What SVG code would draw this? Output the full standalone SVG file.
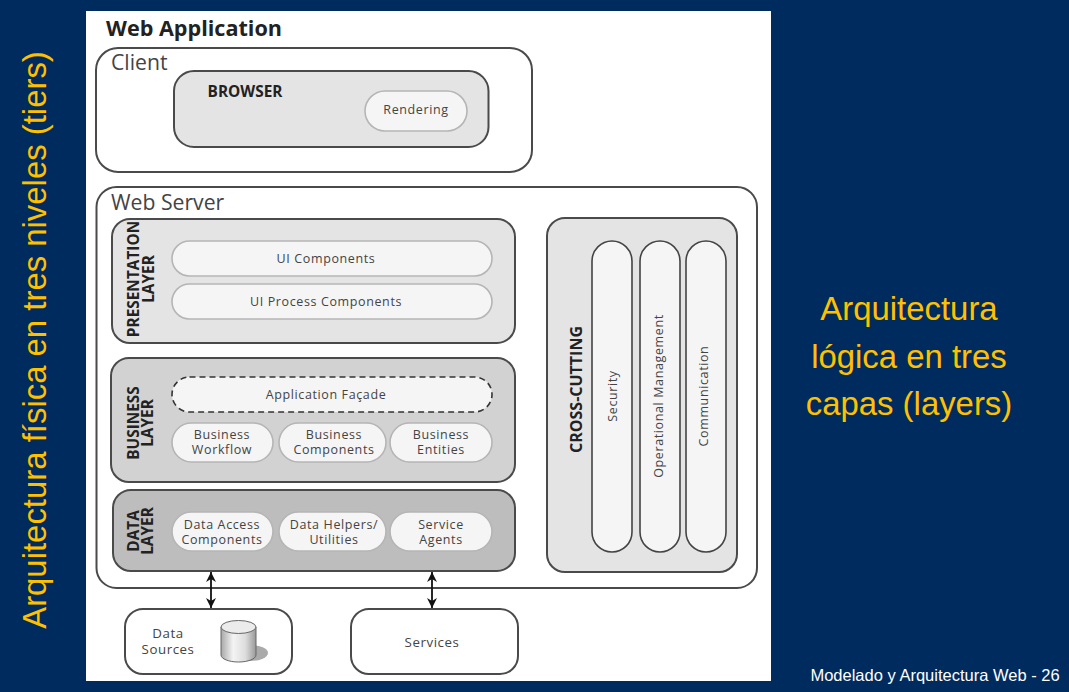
<svg xmlns="http://www.w3.org/2000/svg" width="1069" height="692" viewBox="0 0 1069 692">
<style>
text{font-family:"Open Sans","Noto Sans","Liberation Sans",sans-serif;fill:#333;text-anchor:middle}
.slide{font-family:"Liberation Sans",Arial,sans-serif;fill:#ffc000;font-size:32.9px}
.b{font-weight:700;fill:#222;font-size:15.4px}
.t{font-size:12.5px;fill:#444;letter-spacing:.62px}
.s{font-size:13.300px;fill:#444;letter-spacing:.55px}
.h{font-size:21.200px;fill:#444;text-anchor:start}
.box{stroke:#4a4a4a;stroke-width:2}
.pill{fill:#f5f5f5;stroke:#b5b5b5;stroke-width:1.6}
.bar{fill:#f5f5f5;stroke:#444;stroke-width:1.6}
.conn{stroke:#111;stroke-width:1.8;fill:none;marker-start:url(#ah);marker-end:url(#ah)}
</style>
<defs>
<marker id="ah" markerWidth="12" markerHeight="10" refX="10" refY="5" orient="auto-start-reverse" markerUnits="userSpaceOnUse">
<path d="M0 0L10 5L0 10L3 5Z" fill="#111"/>
</marker>
<linearGradient id="cyl" x1="0" x2="1" y1="0" y2="0">
<stop offset="0" stop-color="#a8a8a8"/><stop offset=".35" stop-color="#f4f4f4"/><stop offset=".7" stop-color="#dcdcdc"/><stop offset="1" stop-color="#999"/>
</linearGradient>
</defs>
<rect width="1069" height="692" fill="#002b5e"/>
<rect x="86" y="11" width="685" height="670" fill="#fff"/>
<text class="slide" transform="translate(46 340) rotate(-90)">Arquitectura física en tres niveles (tiers)</text>
<g id="slide-caption">
<text class="slide" x="909" y="320">Arquitectura</text>
<text class="slide" x="909" y="368">lógica en tres</text>
<text class="slide" x="909" y="415">capas (layers)</text>
</g>
<text x="935" y="681" font-size="16.500" style="font-family:'Liberation Sans',Arial,sans-serif;fill:#fff">Modelado y Arquitectura Web - 26</text>
<text x="194" y="36" font-size="21.600" font-weight="700" style="fill:#222">Web Application</text>
<g id="client">
<rect class="box" x="96" y="48" width="436" height="124" rx="22" fill="#fff"/>
<text class="h" x="111" y="70">Client</text>
</g>
<g id="browser">
<rect class="box" x="174" y="71" width="314.500" height="76" rx="20" fill="#e4e4e4"/>
<text class="b" x="245" y="97">BROWSER</text>
</g>
<g id="rendering">
<rect class="pill" x="365" y="91" width="102" height="40" rx="20"/>
<text class="t" x="416" y="114">Rendering</text>
</g>
<g id="web-server">
<rect class="box" x="96.500" y="187" width="660.500" height="401" rx="20" fill="#fff"/>
<text class="h" x="111" y="210">Web Server</text>
</g>
<g id="presentation-layer">
<rect class="box" x="112" y="219" width="403" height="124" rx="18" fill="#e4e4e4"/>
<text class="b" transform="translate(139 279) rotate(-90)">PRESENTATION</text>
<text class="b" transform="translate(154 279) rotate(-90)">LAYER</text>
</g>
<g id="ui-components">
<rect class="pill" x="172" y="241" width="320" height="35" rx="17.500"/>
<text class="t" x="326" y="263">UI Components</text>
</g>
<g id="ui-process-components">
<rect class="pill" x="172" y="284" width="320" height="35" rx="17.500"/>
<text class="t" x="326" y="306">UI Process Components</text>
</g>
<g id="business-layer">
<rect class="box" x="111" y="358" width="404" height="124" rx="18" fill="#d2d2d2"/>
<text class="b" transform="translate(139 423) rotate(-90)">BUSINESS</text>
<text class="b" transform="translate(153 423) rotate(-90)">LAYER</text>
</g>
<g id="application-facade">
<rect x="172" y="377" width="320" height="35" rx="17.500" fill="#f5f5f5" stroke="#333" stroke-width="1.600" stroke-dasharray="6 4"/>
<text class="t" x="326" y="399">Application Façade</text>
</g>
<g id="business-workflow">
<rect class="pill" x="172" y="423" width="101" height="39" rx="19.500"/>
<text class="t" x="222" y="439">Business</text><text class="t" x="222" y="454">Workflow</text>
</g>
<g id="business-components">
<rect class="pill" x="279" y="423" width="107" height="39" rx="19.500"/>
<text class="t" x="334" y="439">Business</text><text class="t" x="334" y="454">Components</text>
</g>
<g id="business-entities">
<rect class="pill" x="390" y="423" width="102" height="39" rx="19.500"/>
<text class="t" x="441" y="439">Business</text><text class="t" x="441" y="454">Entities</text>
</g>
<g id="data-layer">
<rect class="box" x="113" y="490" width="402" height="81" rx="18" fill="#bdbdbd"/>
<text class="b" transform="translate(139 531) rotate(-90)">DATA</text>
<text class="b" transform="translate(153 531) rotate(-90)">LAYER</text>
</g>
<g id="data-access-components">
<rect class="pill" x="172" y="512" width="101" height="39" rx="19.500"/>
<text class="t" x="222" y="529">Data Access</text><text class="t" x="222" y="544">Components</text>
</g>
<g id="data-helpers">
<rect class="pill" x="279" y="512" width="107" height="39" rx="19.500"/>
<text class="t" x="334" y="529">Data Helpers/</text><text class="t" x="334" y="544">Utilities</text>
</g>
<g id="service-agents">
<rect class="pill" x="390" y="512" width="102" height="39" rx="19.500"/>
<text class="t" x="441" y="529">Service</text><text class="t" x="441" y="544">Agents</text>
</g>
<g id="cross-cutting">
<rect class="box" x="547" y="218" width="190" height="354" rx="18" fill="#e4e4e4"/>
<text class="b" style="font-size:16px" transform="translate(582 389.500) rotate(-90)">CROSS-CUTTING</text>
</g>
<g id="security">
<rect class="bar" x="592" y="241" width="40" height="311" rx="20"/>
<text class="t" transform="translate(617 396) rotate(-90)">Security</text>
</g>
<g id="operational-management">
<rect class="bar" x="640" y="241" width="40" height="311" rx="20"/>
<text class="t" transform="translate(663 396) rotate(-90)">Operational Management</text>
</g>
<g id="communication">
<rect class="bar" x="686" y="241" width="40" height="311" rx="20"/>
<text class="t" transform="translate(708 396) rotate(-90)">Communication</text>
</g>
<g id="data-sources">
<rect class="box" x="125" y="609" width="167" height="65" rx="18" fill="#fff"/>
<text class="s" x="168" y="638">Data</text>
<text class="s" x="168" y="654">Sources</text>
<ellipse cx="250" cy="653" rx="18" ry="8" fill="#aaa"/>
<path d="M221 627V655C221 659 229 662 238.500 662C248 662 256 659 256 655V627Z" fill="url(#cyl)" stroke="#666"/>
<ellipse cx="238.500" cy="627" rx="17.500" ry="6.500" fill="#ececec" stroke="#666"/>
</g>
<g id="services">
<rect class="box" x="351" y="609" width="167" height="65" rx="18" fill="#fff"/>
<text class="s" x="432" y="647">Services</text>
</g>
<g id="connectors">
<path class="conn" d="M211 572V608"/>
<path class="conn" d="M432 572V608"/>
</g>
</svg>
